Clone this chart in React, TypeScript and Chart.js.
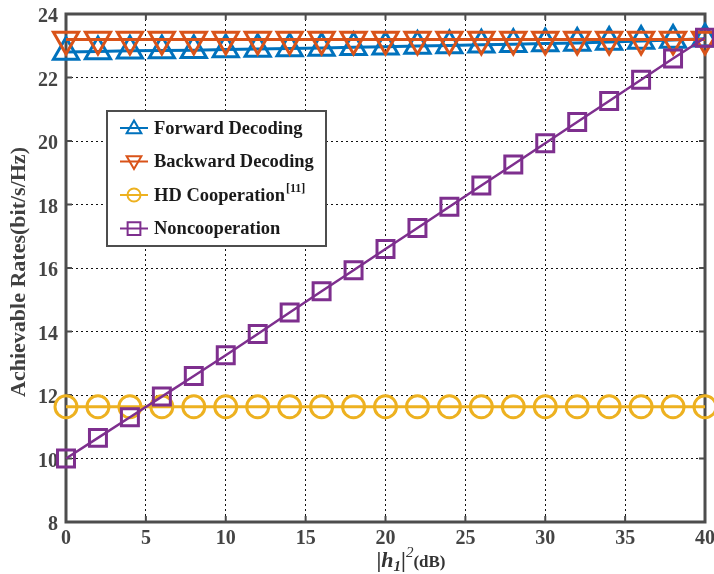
import React, { useEffect, useRef } from "react";
import { Chart, registerables } from "chart.js";

Chart.register(...registerables);

const xValues = [0, 2, 4, 6, 8, 10, 12, 14, 16, 18, 20, 22, 24, 26, 28, 30, 32, 34, 36, 38, 40];
const forwardDecoding = [22.8, 22.82, 22.84, 22.85, 22.86, 22.88, 22.9, 22.91, 22.93, 22.95, 22.97, 22.99, 23.01, 23.03, 23.05, 23.07, 23.09, 23.12, 23.15, 23.18, 23.22];
const backwardDecoding = [23.2, 23.2, 23.2, 23.2, 23.2, 23.2, 23.2, 23.2, 23.2, 23.2, 23.2, 23.2, 23.2, 23.2, 23.2, 23.2, 23.2, 23.2, 23.2, 23.2, 23.2];
const hdCooperation = [11.63, 11.63, 11.63, 11.63, 11.63, 11.63, 11.63, 11.63, 11.63, 11.63, 11.63, 11.63, 11.63, 11.63, 11.63, 11.63, 11.63, 11.63, 11.63, 11.63, 11.63];
const noncooperation = [10.0, 10.65, 11.3, 11.95, 12.6, 13.25, 13.92, 14.6, 15.27, 15.93, 16.6, 17.26, 17.93, 18.6, 19.26, 19.93, 20.6, 21.26, 21.93, 22.6, 23.25];

const xTicks = [0, 5, 10, 15, 20, 25, 30, 35, 40];
const yTicks = [8, 10, 12, 14, 16, 18, 20, 22, 24];

const seriesNames = ["Forward Decoding", "Backward Decoding", "HD Cooperation", "Noncooperation"];
const seriesSup = ["", "", "[11]", ""];
const seriesColors = ["#0072BD", "#D95319", "#EDB120", "#7E2F8E"];
const seriesMarkers = ["tri", "invtri", "circle", "square"];

const FONT = "'Liberation Serif', 'Times New Roman', serif";
const AXIS_COLOR = "#4d4d4d";

function drawMarker(ctx: CanvasRenderingContext2D, kind: string, x: number, y: number, r: number) {
  ctx.beginPath();
  if (kind === "tri") {
    ctx.moveTo(x, y - r);
    ctx.lineTo(x + r * 0.866, y + r * 0.5);
    ctx.lineTo(x - r * 0.866, y + r * 0.5);
    ctx.closePath();
  } else if (kind === "invtri") {
    ctx.moveTo(x, y + r);
    ctx.lineTo(x + r * 0.866, y - r * 0.5);
    ctx.lineTo(x - r * 0.866, y - r * 0.5);
    ctx.closePath();
  } else if (kind === "circle") {
    ctx.arc(x, y, r, 0, Math.PI * 2);
  } else {
    ctx.rect(x - r * 0.75, y - r * 0.75, r * 1.5, r * 1.5);
  }
  ctx.stroke();
}

const framePlugin = {
  id: "frame",
  beforeDatasetsDraw(chart: any) {
    const { ctx, chartArea: a, scales } = chart;
    ctx.save();
    ctx.strokeStyle = AXIS_COLOR;
    ctx.lineWidth = 3;
    ctx.strokeRect(a.left, a.top, a.right - a.left, a.bottom - a.top);
    ctx.lineWidth = 2;
    const tl = 6;
    for (const v of xTicks) {
      const px = scales.x.getPixelForValue(v);
      ctx.beginPath();
      ctx.moveTo(px, a.bottom);
      ctx.lineTo(px, a.bottom - tl);
      ctx.moveTo(px, a.top);
      ctx.lineTo(px, a.top + tl);
      ctx.stroke();
    }
    for (const v of yTicks) {
      const py = scales.y.getPixelForValue(v);
      ctx.beginPath();
      ctx.moveTo(a.left, py);
      ctx.lineTo(a.left + tl, py);
      ctx.moveTo(a.right, py);
      ctx.lineTo(a.right - tl, py);
      ctx.stroke();
    }
    // tick labels
    ctx.fillStyle = "#444444";
    ctx.font = `bold 20px ${FONT}`;
    ctx.textBaseline = "middle";
    ctx.textAlign = "right";
    for (const v of yTicks) {
      const py = scales.y.getPixelForValue(v);
      ctx.fillText(String(v), a.left - 8, py + 3);
    }
    ctx.textAlign = "center";
    for (const v of xTicks) {
      const px = scales.x.getPixelForValue(v);
      ctx.fillText(String(v), px, a.bottom + 17);
    }
    ctx.restore();
  },
  afterDraw(chart: any) {
    const { ctx } = chart;
    ctx.save();
    // Legend
    const lx = 107, ly = 111, lw = 219, lh = 135;
    ctx.fillStyle = "#ffffff";
    ctx.fillRect(lx, ly, lw, lh);
    ctx.strokeStyle = AXIS_COLOR;
    ctx.lineWidth = 2;
    ctx.strokeRect(lx, ly, lw, lh);
    const rows = [128, 161.5, 195, 228.5];
    for (let i = 0; i < seriesNames.length; i++) {
      const y = rows[i];
      ctx.strokeStyle = seriesColors[i];
      ctx.lineWidth = 2;
      ctx.beginPath();
      ctx.moveTo(120, y);
      ctx.lineTo(148, y);
      ctx.stroke();
      ctx.lineWidth = 2;
      const m = seriesMarkers[i];
      drawMarker(ctx, m, 134, y + (m === "tri" ? 1 : m === "invtri" ? -1 : 0), m === "circle" ? 6.5 : 8.5);
      ctx.fillStyle = "#1a1a1a";
      ctx.font = `bold 18.5px ${FONT}`;
      ctx.textBaseline = "middle";
      ctx.textAlign = "left";
      ctx.fillText(seriesNames[i], 154, y + 1);
      if (seriesSup[i]) {
        const w = ctx.measureText(seriesNames[i]).width;
        ctx.font = `bold 12px ${FONT}`;
        ctx.fillText(seriesSup[i], 154 + w + 1, y - 6);
      }
    }
    // X title: |h1|^2(dB)
    const cx = 411;
    const base = 567;
    const parts = [
      { t: "|", f: `bold 22px ${FONT}`, dy: 0 },
      { t: "h", f: `italic bold 22px ${FONT}`, dy: 0 },
      { t: "1", f: `italic bold 15px ${FONT}`, dy: 4 },
      { t: "|", f: `bold 22px ${FONT}`, dy: 0 },
      { t: "2", f: `italic 15px ${FONT}`, dy: -10 },
      { t: "(dB)", f: `bold 17px ${FONT}`, dy: 0 },
    ];
    let total = 0;
    for (const p of parts) {
      ctx.font = p.f;
      total += ctx.measureText(p.t).width;
    }
    let x = cx - total / 2;
    ctx.fillStyle = "#333333";
    ctx.textBaseline = "alphabetic";
    ctx.textAlign = "left";
    for (const p of parts) {
      ctx.font = p.f;
      ctx.fillText(p.t, x, base + p.dy);
      x += ctx.measureText(p.t).width;
    }
    // Y title
    ctx.translate(19, 272);
    ctx.rotate(-Math.PI / 2);
    ctx.font = `bold 22px ${FONT}`;
    ctx.fillStyle = "#404040";
    ctx.textAlign = "center";
    ctx.textBaseline = "middle";
    ctx.fillText("Achievable Rates(bit/s/Hz)", 0, 0);
    ctx.restore();
  },
};

export default function App() {
  const ref = useRef<HTMLCanvasElement | null>(null);
  useEffect(() => {
    if (!ref.current) return;
    const mk = (label: string, data: number[], color: string, style: any, radius: number, rotation: number, order: number, bw: number) => ({
      label,
      data: xValues.map((x, i) => ({ x, y: data[i] })),
      borderColor: color,
      backgroundColor: "rgba(0,0,0,0)",
      borderWidth: bw,
      pointStyle: style,
      pointRadius: radius,
      pointRotation: rotation,
      pointBorderWidth: 3,
      pointBackgroundColor: "rgba(0,0,0,0)",
      pointBorderColor: color,
      tension: 0,
      order,
      clip: false as any,
    });
    const chart = new Chart(ref.current, {
      type: "line",
      data: {
        datasets: [
          mk(seriesNames[0], forwardDecoding, seriesColors[0], "triangle", 14.5, 0, 4, 3),
          mk(seriesNames[1], backwardDecoding, seriesColors[1], "triangle", 14.5, 180, 3, 3),
          mk(seriesNames[2], hdCooperation, seriesColors[2], "circle", 11, 0, 2, 3),
          mk(seriesNames[3], noncooperation, seriesColors[3], "rect", 12, 0, 1, 2.5),
        ],
      },
      options: {
        animation: false,
        responsive: false,
        devicePixelRatio: 1,
        layout: { autoPadding: false, padding: { left: 66, top: 14, right: 9, bottom: 52 } },
        plugins: { legend: { display: false }, tooltip: { enabled: false } },
        scales: {
          x: {
            type: "linear",
            min: 0,
            max: 40,
            afterBuildTicks: (s: any) => { s.ticks = xTicks.map((v) => ({ value: v })); },
            afterFit: (s: any) => { s.height = 0; },
            grid: { color: "#111111", lineWidth: 1, drawTicks: false },
            border: { display: false, dash: [2, 3] },
            ticks: { display: false },
          },
          y: {
            type: "linear",
            min: 8,
            max: 24,
            afterBuildTicks: (s: any) => { s.ticks = yTicks.map((v) => ({ value: v })); },
            afterFit: (s: any) => { s.width = 0; },
            grid: { color: "#111111", lineWidth: 1, drawTicks: false },
            border: { display: false, dash: [2, 3] },
            ticks: { display: false },
          },
        },
      } as any,
      plugins: [framePlugin],
    });
    return () => chart.destroy();
  }, []);
  return (
    <div style={{ position: "absolute", left: 0, top: 0, width: 714, height: 574, background: "#fff" }}>
      <canvas ref={ref} width={714} height={574} style={{ width: 714, height: 574, display: "block" }} />
    </div>
  );
}
